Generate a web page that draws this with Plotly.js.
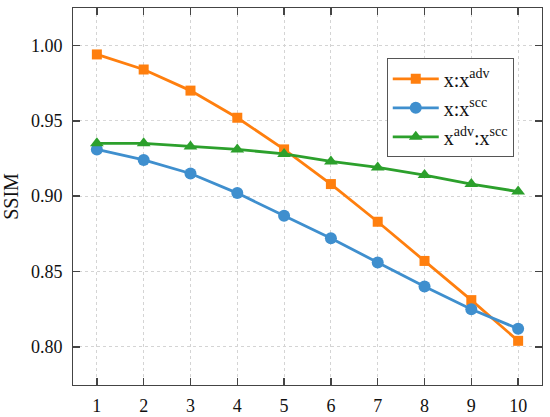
<!DOCTYPE html>
<html>
<head>
<meta charset="utf-8">
<script src="https://cdn.plot.ly/plotly-3.0.1.min.js"></script>
<style>html,body{margin:0;padding:0;background:#fff;}#chart{width:550px;height:417px;}</style>
</head>
<body>
<div id="chart"></div>
<script>
const steps = [1, 2, 3, 4, 5, 6, 7, 8, 9, 10];
const xAdv = [0.994, 0.984, 0.970, 0.952, 0.931, 0.908, 0.883, 0.857, 0.831, 0.804];
const xScc = [0.931, 0.924, 0.915, 0.902, 0.887, 0.872, 0.856, 0.840, 0.825, 0.812];
const advScc = [0.935, 0.935, 0.933, 0.931, 0.928, 0.923, 0.919, 0.914, 0.908, 0.903];
const names = ['x:x<sup>adv</sup>', 'x:x<sup>scc</sup>', 'x<sup>adv</sup>:x<sup>scc</sup>'];
const yTicks = [0.80, 0.85, 0.90, 0.95, 1.00];
const yTickText = ['0.80', '0.85', '0.90', '0.95', '1.00'];

const serif = '"Liberation Serif", "Times New Roman", Times, serif';

const traces = [
  {x: steps, y: xAdv, name: names[0], mode: 'lines+markers', type: 'scatter',
   line: {color: '#ff7f0e', width: 2.8}, marker: {symbol: 'square', size: 10, color: '#ff7f0e'}},
  {x: steps, y: xScc, name: names[1], mode: 'lines+markers', type: 'scatter',
   line: {color: '#3f8fce', width: 2.8}, marker: {symbol: 'circle', size: 12, color: '#3f8fce'}},
  {x: steps, y: advScc, name: names[2], mode: 'lines+markers', type: 'scatter',
   line: {color: '#2ca02c', width: 2.8}, marker: {symbol: 'triangle-up', size: 12, color: '#2ca02c'}}
];

const axisCommon = {
  showline: true, linecolor: '#444', linewidth: 1, mirror: 'allticks',
  ticks: 'inside', ticklen: 7, tickwidth: 1.5, tickcolor: '#444',
  showgrid: true, gridcolor: '#d4d4d4', griddash: 'dot', gridwidth: 1,
  zeroline: false, tickfont: {family: serif, size: 18, color: '#111'}
};

const layout = {
  width: 550, height: 417,
  margin: {l: 73, r: 7.5, t: 8, b: 32},
  paper_bgcolor: '#fff', plot_bgcolor: '#fff',
  font: {family: serif, color: '#111'},
  xaxis: Object.assign({}, axisCommon, {range: [0.49, 10.51], tickvals: steps, ticklabelstandoff: 4}),
  yaxis: Object.assign({}, axisCommon, {range: [0.7747, 1.0248], tickvals: yTicks, ticktext: yTickText,
    ticklabelstandoff: 6,
    title: {text: 'SSIM', font: {family: serif, size: 20, color: '#111'}, standoff: 8}}),
  legend: {x: 0.669, y: 0.8666, xanchor: 'left', yanchor: 'top',
    bgcolor: '#fff', bordercolor: '#555', borderwidth: 1,
    font: {family: serif, size: 20, color: '#111'},
    tracegroupgap: 0, itemwidth: 46}
};

Plotly.newPlot('chart', traces, layout, {displayModeBar: false, staticPlot: true});
</script>
</body>
</html>
